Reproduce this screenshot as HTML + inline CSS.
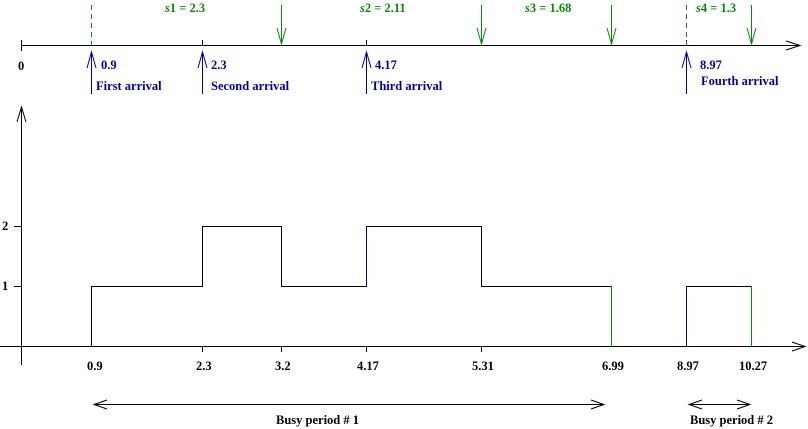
<!DOCTYPE html><html><head><style>body{margin:0;background:#fff}svg{display:block}text{font-family:"Liberation Serif",serif;font-weight:bold;font-size:12.5px}</style></head><body>
<svg width="808" height="429" viewBox="0 0 808 429">
<g stroke="#000" stroke-width="1" fill="none">
<line x1="21" y1="45.5" x2="800" y2="45.5"/><path d="M786,41 L800,45.5 L786,50"/>
<line x1="21.5" y1="40" x2="21.5" y2="51"/>
<line x1="202.5" y1="40" x2="202.5" y2="45"/><line x1="366.5" y1="40" x2="366.5" y2="45"/><line x1="686.5" y1="40" x2="686.5" y2="45"/>
</g>
<g stroke="#0a8a0a" fill="none">
<line x1="91.5" y1="5" x2="91.5" y2="45" stroke-dasharray="5,4"/>
<line x1="686.5" y1="5" x2="686.5" y2="45" stroke-dasharray="5,4"/>
<line x1="281.5" y1="5" x2="281.5" y2="44"/><path d="M277,28 L281.5,44 L286,28"/>
<line x1="481.5" y1="5" x2="481.5" y2="44"/><path d="M477,28 L481.5,44 L486,28"/>
<line x1="611.5" y1="5" x2="611.5" y2="44"/><path d="M607,28 L611.5,44 L616,28"/>
<line x1="751.5" y1="5" x2="751.5" y2="44"/><path d="M747,28 L751.5,44 L756,28"/>
</g>
<g fill="#0a8a0a">
<text x="165" y="12"><tspan font-style="italic">s</tspan>1 = 2.3</text><text x="360" y="12"><tspan font-style="italic">s</tspan>2 = 2.11</text><text x="525" y="12"><tspan font-style="italic">s</tspan>3 = 1.68</text><text x="696" y="12"><tspan font-style="italic">s</tspan>4 = 1.3</text>
</g>
<g stroke="#0000aa" fill="none">
<line x1="91.5" y1="52" x2="91.5" y2="94"/><path d="M87,68 L91.5,52 L96,68"/>
<line x1="202.5" y1="52" x2="202.5" y2="94"/><path d="M198,68 L202.5,52 L207,68"/>
<line x1="366.5" y1="52" x2="366.5" y2="94"/><path d="M362,68 L366.5,52 L371,68"/>
<line x1="686.5" y1="52" x2="686.5" y2="94"/><path d="M682,68 L686.5,52 L691,68"/>
</g>
<g fill="#0000aa">
<text x="101" y="69">0.9</text><text x="96" y="90">First arrival</text>
<text x="211" y="69">2.3</text><text x="211" y="90">Second arrival</text>
<text x="375" y="69">4.17</text><text x="371" y="90">Third arrival</text>
<text x="700" y="69">8.97</text><text x="701" y="85">Fourth arrival</text>
</g>
<text x="18" y="70">0</text>
<g stroke="#000" fill="none">
<line x1="21.5" y1="107" x2="21.5" y2="365"/><path d="M17,122 L21.5,107 L26,122"/>
<line x1="0" y1="346.5" x2="805" y2="346.5"/><path d="M792,342 L805,346.5 L792,351"/>
<line x1="14" y1="226.5" x2="21" y2="226.5"/><line x1="14" y1="286.5" x2="21" y2="286.5"/>
<line x1="202.5" y1="346" x2="202.5" y2="352"/><line x1="281.5" y1="346" x2="281.5" y2="352"/><line x1="366.5" y1="346" x2="366.5" y2="352"/><line x1="481.5" y1="346" x2="481.5" y2="352"/>
<path d="M91.5,346 L91.5,286.5 L202.5,286.5 L202.5,226.5 L281.5,226.5 L281.5,286.5 L366.5,286.5 M366.5,226.5 L481.5,226.5 L481.5,286.5 L611.5,286.5"/>
<path d="M686.5,286.5 L751.5,286.5"/>
<line x1="94" y1="404.5" x2="604" y2="404.5"/><path d="M107,400 L94,404.5 L107,409 M591,400 L604,404.5 L591,409"/>
<line x1="689" y1="404.5" x2="750" y2="404.5"/><path d="M702,400 L689,404.5 L702,409 M737,400 L750,404.5 L737,409"/>
</g>
<line x1="366.5" y1="226" x2="366.5" y2="287" stroke="#0000aa"/>
<line x1="686.5" y1="286" x2="686.5" y2="346" stroke="#0000aa"/>
<line x1="611.5" y1="286" x2="611.5" y2="346" stroke="#0a8a0a"/>
<line x1="751.5" y1="286" x2="751.5" y2="346" stroke="#0a8a0a"/>
<g>
<text x="2" y="230">2</text><text x="2" y="290">1</text>
<text x="87" y="370">0.9</text><text x="196" y="370">2.3</text><text x="275" y="370">3.2</text><text x="357" y="370">4.17</text><text x="472" y="370">5.31</text><text x="602" y="370">6.99</text><text x="677" y="370">8.97</text><text x="739" y="370">10.27</text>
<text x="276" y="424">Busy period # 1</text><text x="690" y="424">Busy period # 2</text>
</g>
</svg></body></html>
